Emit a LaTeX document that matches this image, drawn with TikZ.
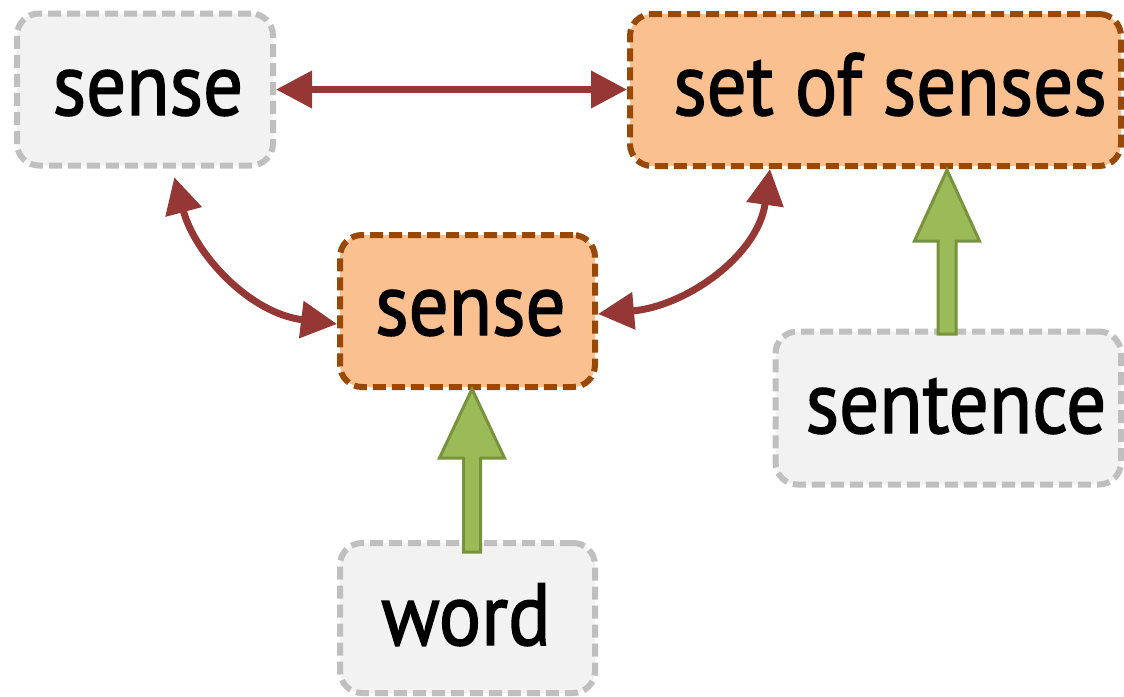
\documentclass[tikz,border=0pt]{standalone}
\usepackage{fontspec}
\setmainfont{PT Sans}
\newfontfamily\lblfont[FakeBold=1.6,FakeStretch=0.9]{PT Sans}
\usetikzlibrary{arrows.meta,calc}
\definecolor{grayfill}{HTML}{F2F2F2}
\definecolor{grayline}{HTML}{BFBFBF}
\definecolor{orgfill}{HTML}{FAC090}
\definecolor{orgline}{HTML}{984807}
\definecolor{relred}{HTML}{953735}
\definecolor{grnfill}{HTML}{9BBB59}
\definecolor{grnline}{HTML}{77933C}
\tikzset{
  box/.style={rectangle, rounded corners=22pt, line width=6pt,
    dash pattern=on 13pt off 6pt, inner sep=0pt},
  plainbox/.style={box, draw=grayline, fill=grayfill},
  keybox/.style={box, draw=orgline, fill=orgfill},
  lbl/.style={inner sep=0pt, anchor=base, font=\lblfont\fontsize{88}{100}\selectfont},
  relarrow/.style={draw=relred, line width=7pt,
    {Triangle[length=36pt,width=36pt]}-{Triangle[length=36pt,width=36pt]}},
  feedarrow/.style={draw=grnline, fill=grnfill, line width=3pt, line join=miter}
}
\begin{document}
\begin{tikzpicture}[x=1pt,y=1pt]
\useasboundingbox (0,0) rectangle (1124,-696);

% boxes
\node[plainbox, minimum width=256pt, minimum height=152pt] (s1) at (145,-89.5) {};
\node[keybox, minimum width=491pt, minimum height=152pt] (ss) at (875.5,-90) {};
\node[keybox, minimum width=255pt, minimum height=152pt] (ms) at (467.5,-311) {};
\node[plainbox, minimum width=345.5pt, minimum height=153pt] (st) at (948.25,-408) {};
\node[plainbox, minimum width=255pt, minimum height=150pt] (wd) at (467.5,-618) {};

% labels
\node[lbl] (t1) at (148,-115) {sense};
\node[lbl] (t2) at (890,-115) {set of senses};
\node[lbl] (t3) at (470.5,-335) {sense};
\node[lbl] (t4) at (956,-433) {sentence};
\node[lbl] (t5) at (466,-645) {word};

% relations between senses
\draw[relarrow] (s1.east) -- (s1.east -| ss.west);
\draw[relarrow, shorten <=9pt] ([xshift=27pt]s1.south) to[out=-75, in=173] ([yshift=-13pt]ms.west);
\draw[relarrow] ([yshift=-3pt]ms.east) to[out=5, in=-98] ([xshift=-105.5pt]ss.south);

% block arrows from the inputs
\coordinate (g1) at ($(ms.south)+(4.5,1)$);
\draw[feedarrow] (g1) -- ++(32.5,-69) -- ++(-24,0) -- ++(0,-94) -- ++(-17,0)
  -- ++(0,94) -- ++(-24,0) -- cycle;
\coordinate (g2) at ($(ss.south)+(71.5,-1)$);
\draw[feedarrow] (g2) -- ++(32.5,-71) -- ++(-23.5,0) -- ++(0,-93) -- ++(-18,0)
  -- ++(0,93) -- ++(-23.5,0) -- cycle;
\end{tikzpicture}
\end{document}
